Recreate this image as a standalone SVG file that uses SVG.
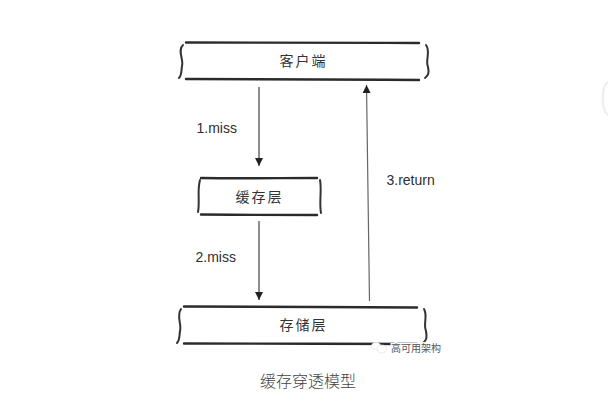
<svg xmlns="http://www.w3.org/2000/svg" width="608" height="402" viewBox="0 0 608 402">
<style>
.edge{fill:none;stroke:#2b2b2b;stroke-width:2.4;stroke-linecap:round}
.side{fill:none;stroke:#333;stroke-width:2;stroke-linecap:round}
.conn{fill:none;stroke:#444;stroke-width:1.2}
.ret{fill:none;stroke:#666;stroke-width:1.2}
.lab{font-family:"Liberation Sans",Arial,sans-serif;font-size:14px;fill:#2f2f2f}
.cjk{font-family:"Noto Sans CJK SC",sans-serif;font-size:14px;font-weight:400;fill:#333;text-anchor:middle;letter-spacing:2px}
.cap{font-family:"Noto Sans CJK SC",sans-serif;font-size:16px;font-weight:300;fill:#444;text-anchor:middle}
.wm{font-family:"Noto Sans CJK SC",sans-serif;font-size:10px;fill:#555;stroke:#fff;stroke-width:2;paint-order:stroke}
</style>
<defs>
<marker id="a" markerUnits="userSpaceOnUse" markerWidth="9" markerHeight="9" refX="8" refY="4.500" orient="auto"><path d="M0 0.500L8 4.500L0 8.500Z" fill="#222"/></marker>
</defs>
<rect width="608" height="402" fill="#fff"/>
<path d="M608 82C601 87 601 110 608 115" fill="none" stroke="#efefef" stroke-width="2.500"/>
<g id="client">
<path class="edge" d="M186 42.500C260 43 340 42.500 419 43"/>
<path class="edge" d="M186 79C260 79.500 340 79.500 419 80"/>
<path class="side" d="M183 45C177 50 184 60 182 66C181 72 182 75 179 78"/>
<path class="side" d="M426 45C431 52 425 60 428 67C429 72 429 75 425 78"/>
<text class="cjk" x="303.500" y="66">客户端</text>
</g>
<g id="cache">
<path class="edge" d="M201 178C240 178.500 280 178 317 178"/>
<path class="edge" d="M201 214.500C240 215 280 215 317 215"/>
<path class="side" d="M200 180C197 190 200 202 198 212"/>
<path class="side" d="M320 180C322 190 319 202 321 213"/>
<text class="cjk" x="259.500" y="202">缓存层</text>
</g>
<g id="storage">
<path class="edge" d="M184 306.500C260 307 340 307 417 307.500"/>
<path class="edge" d="M184 343.500C260 344 340 343.500 417 344"/>
<path class="side" d="M181 309C176 316 182 324 180 331C179 337 180 340 177 343"/>
<path class="side" d="M424 309C428 316 423 324 426 331C427 337 427 340 423 343"/>
<text class="cjk" x="303.500" y="330">存储层</text>
</g>
<g id="connectors">
<path class="conn" d="M259 87V166" marker-end="url(#a)"/>
<path class="conn" d="M259 221V300" marker-end="url(#a)"/>
<path class="ret" d="M369.500 301L366.500 85" marker-end="url(#a)"/>
</g>
<text class="lab" x="196.500" y="133">1.miss</text>
<text class="lab" x="195.500" y="262">2.miss</text>
<text class="lab" x="386.500" y="185">3.return</text>
<text class="cap" x="308" y="387">缓存穿透模型</text>
<g id="watermark">
<ellipse cx="376" cy="346" rx="4.500" ry="3.500" fill="#fff" stroke="#ddd" stroke-width=".6"/>
<ellipse cx="382" cy="349" rx="5" ry="4" fill="#fff" stroke="#ddd" stroke-width=".6"/>
<text class="wm" x="391" y="352">高可用架构</text>
</g>
</svg>
